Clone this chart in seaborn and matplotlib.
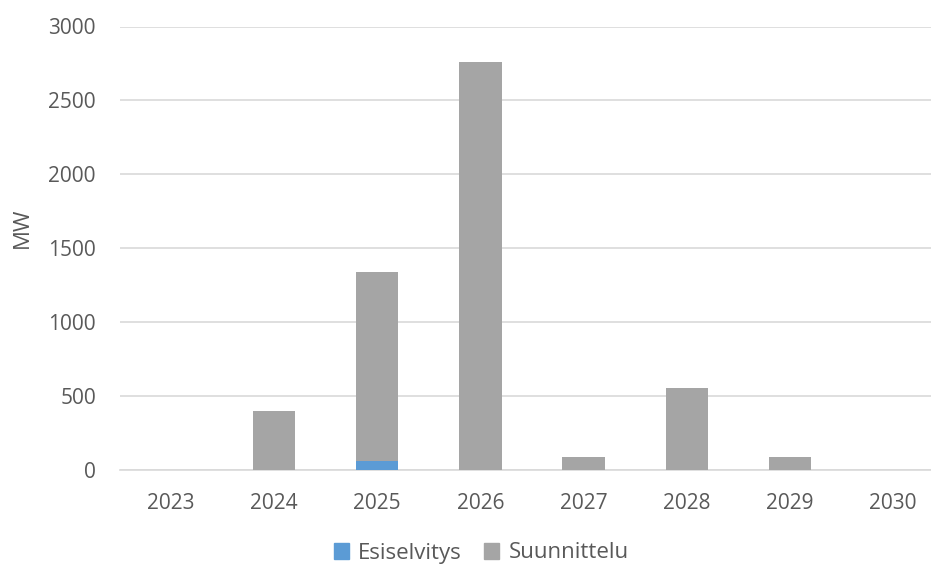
import matplotlib
matplotlib.use("Agg")
import matplotlib.pyplot as plt
import seaborn as sns
import pandas as pd
from matplotlib.patches import Patch

years = ["2023", "2024", "2025", "2026", "2027", "2028", "2029", "2030"]
esiselvitys = [0, 0, 60, 0, 0, 0, 0, 0]
suunnittelu = [0, 395, 1280, 2760, 85, 550, 85, 0]
yticks = [0, 500, 1000, 1500, 2000, 2500, 3000]

sns.set_theme(style="white")
plt.rcParams['font.family'] = ['Open Sans', 'DejaVu Sans']
text_col = "#595959"

df = pd.DataFrame({"year": years, "esi": esiselvitys, "suun": suunnittelu})
df["total"] = df["esi"] + df["suun"]

fig = plt.figure(figsize=(9.31, 5.67), dpi=100)
left, right, top, bottom = 119.5, 944.5, 26.5, 469.5
ax = fig.add_axes([left/931, 1-bottom/567, (right-left)/931, (bottom-top)/567])

sns.barplot(data=df, x="year", y="total", color="#A5A5A5", saturation=1,
            width=0.41, ax=ax, zorder=3, linewidth=0)
sns.barplot(data=df, x="year", y="esi", color="#5B9BD5", saturation=1,
            width=0.41, ax=ax, zorder=4, linewidth=0)

ax.set_ylim(0, 3000)
ax.set_yticks(yticks)
ax.set_yticklabels([str(t) for t in yticks])
ax.grid(axis="y", color="#D9D9D9", linewidth=1.2, zorder=0)
ax.set_axisbelow(True)
for s in ["top", "right", "left"]:
    ax.spines[s].set_visible(False)
ax.spines["bottom"].set_color("#D9D9D9")
ax.spines["bottom"].set_linewidth(1.2)
ax.tick_params(axis="both", length=0, labelsize=15, colors=text_col)
ax.tick_params(axis="y", pad=17)
ax.tick_params(axis="x", pad=17)
ax.set_xlabel("")
ax.set_ylabel("MW", fontsize=16, color=text_col)
ax.yaxis.set_label_coords(-(left-33)/(right-left), (bottom-228)/(bottom-top))

handles = [Patch(color="#5B9BD5", label="Esiselvitys"),
           Patch(color="#A5A5A5", label="Suunnittelu")]
fig.legend(handles=handles, loc="center", bbox_to_anchor=(481/931, 1-553/567),
           ncol=2, frameon=False, fontsize=16, handlelength=0.7, handleheight=0.7,
           handletextpad=0.4, columnspacing=1.0, labelcolor=text_col)

fig.savefig("out.png", dpi=100)
